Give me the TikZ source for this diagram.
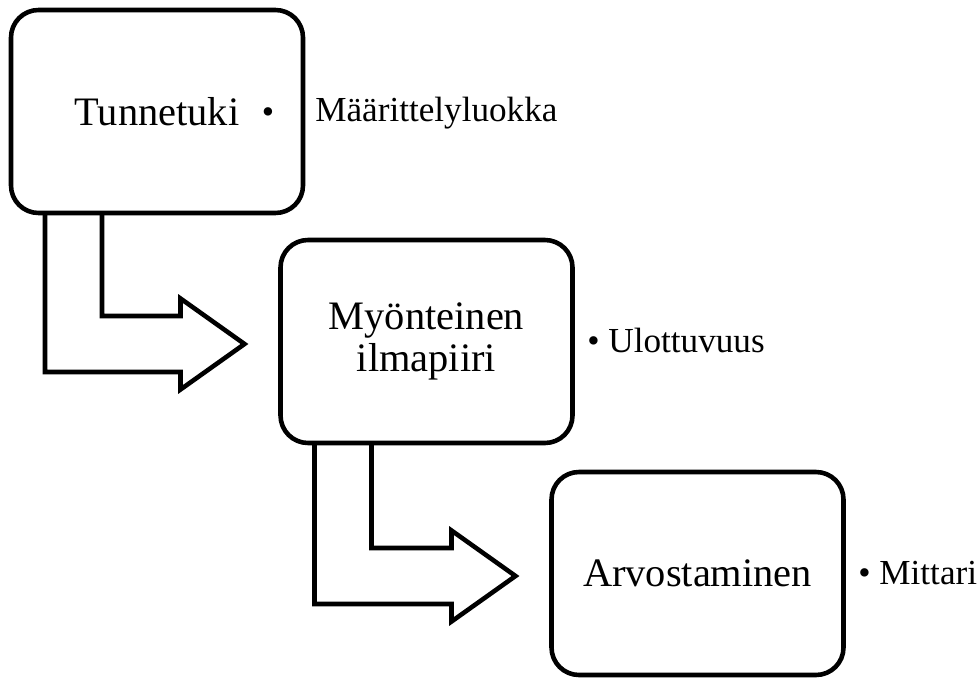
\documentclass[tikz,border=0pt]{standalone}
\usepackage{fontspec}
\setmainfont{Liberation Serif}
\usetikzlibrary{calc,backgrounds}

% bent block arrow from the foot of one box to the side of the next
\newcommand{\bentarrow}[2]{%
  \draw[blockarrow] ($(#1.south west)+(0.68,0)$) |- ($(#2.west)+(-2.0,-0.61)$)
    -- ++(0,-0.35) -- ($(#2.west)+(-0.72,-0.05)$) -- ($(#2.west)+(-2.0,0.86)$)
    -- ++(0,-0.35) -| ($(#1.south west)+(1.82,0)$);}

\begin{document}
\begin{tikzpicture}[
  box/.style={
    draw=black, line width=2.6pt, rounded corners=0.55cm, fill=white,
    font=\fontsize{23}{24}\selectfont, align=center,
    minimum width=5.84cm, minimum height=4.06cm, inner sep=0pt, outer sep=0pt
  },
  note/.style={font=\fontsize{20}{22}\selectfont, inner sep=0pt},
  blockarrow/.style={draw=black, fill=white, line width=2.6pt},
]
  \useasboundingbox (0,0) rectangle (19.58,-13.6);

  % Boxes
  \node[box] (tunne) at (3.14,-2.23) {Tunnetuki};
  \node[box] (myont) at (8.53,-6.83) {Myönteinen\\ilmapiiri};
  \node[box] (arvo)  at (13.95,-11.47) {Arvostaminen};

  % Arrows between the boxes (behind them)
  \begin{scope}[on background layer]
    \bentarrow{tunne}{myont}
    \bentarrow{myont}{arvo}
  \end{scope}

  % Bullet notes
  \node[note, anchor=base] (dot1) at (5.36,-2.47) {\textbullet};
  \node[note, anchor=base west] (maar) at (6.3,-2.44) {Määrittelyluokka};
  \node[note, anchor=base west] (ulot) at (11.74,-7.04) {\textbullet\ Ulottuvuus};
  \node[note, anchor=base west] (mitt) at (17.16,-11.68) {\textbullet\ Mittari};

\end{tikzpicture}
\end{document}
